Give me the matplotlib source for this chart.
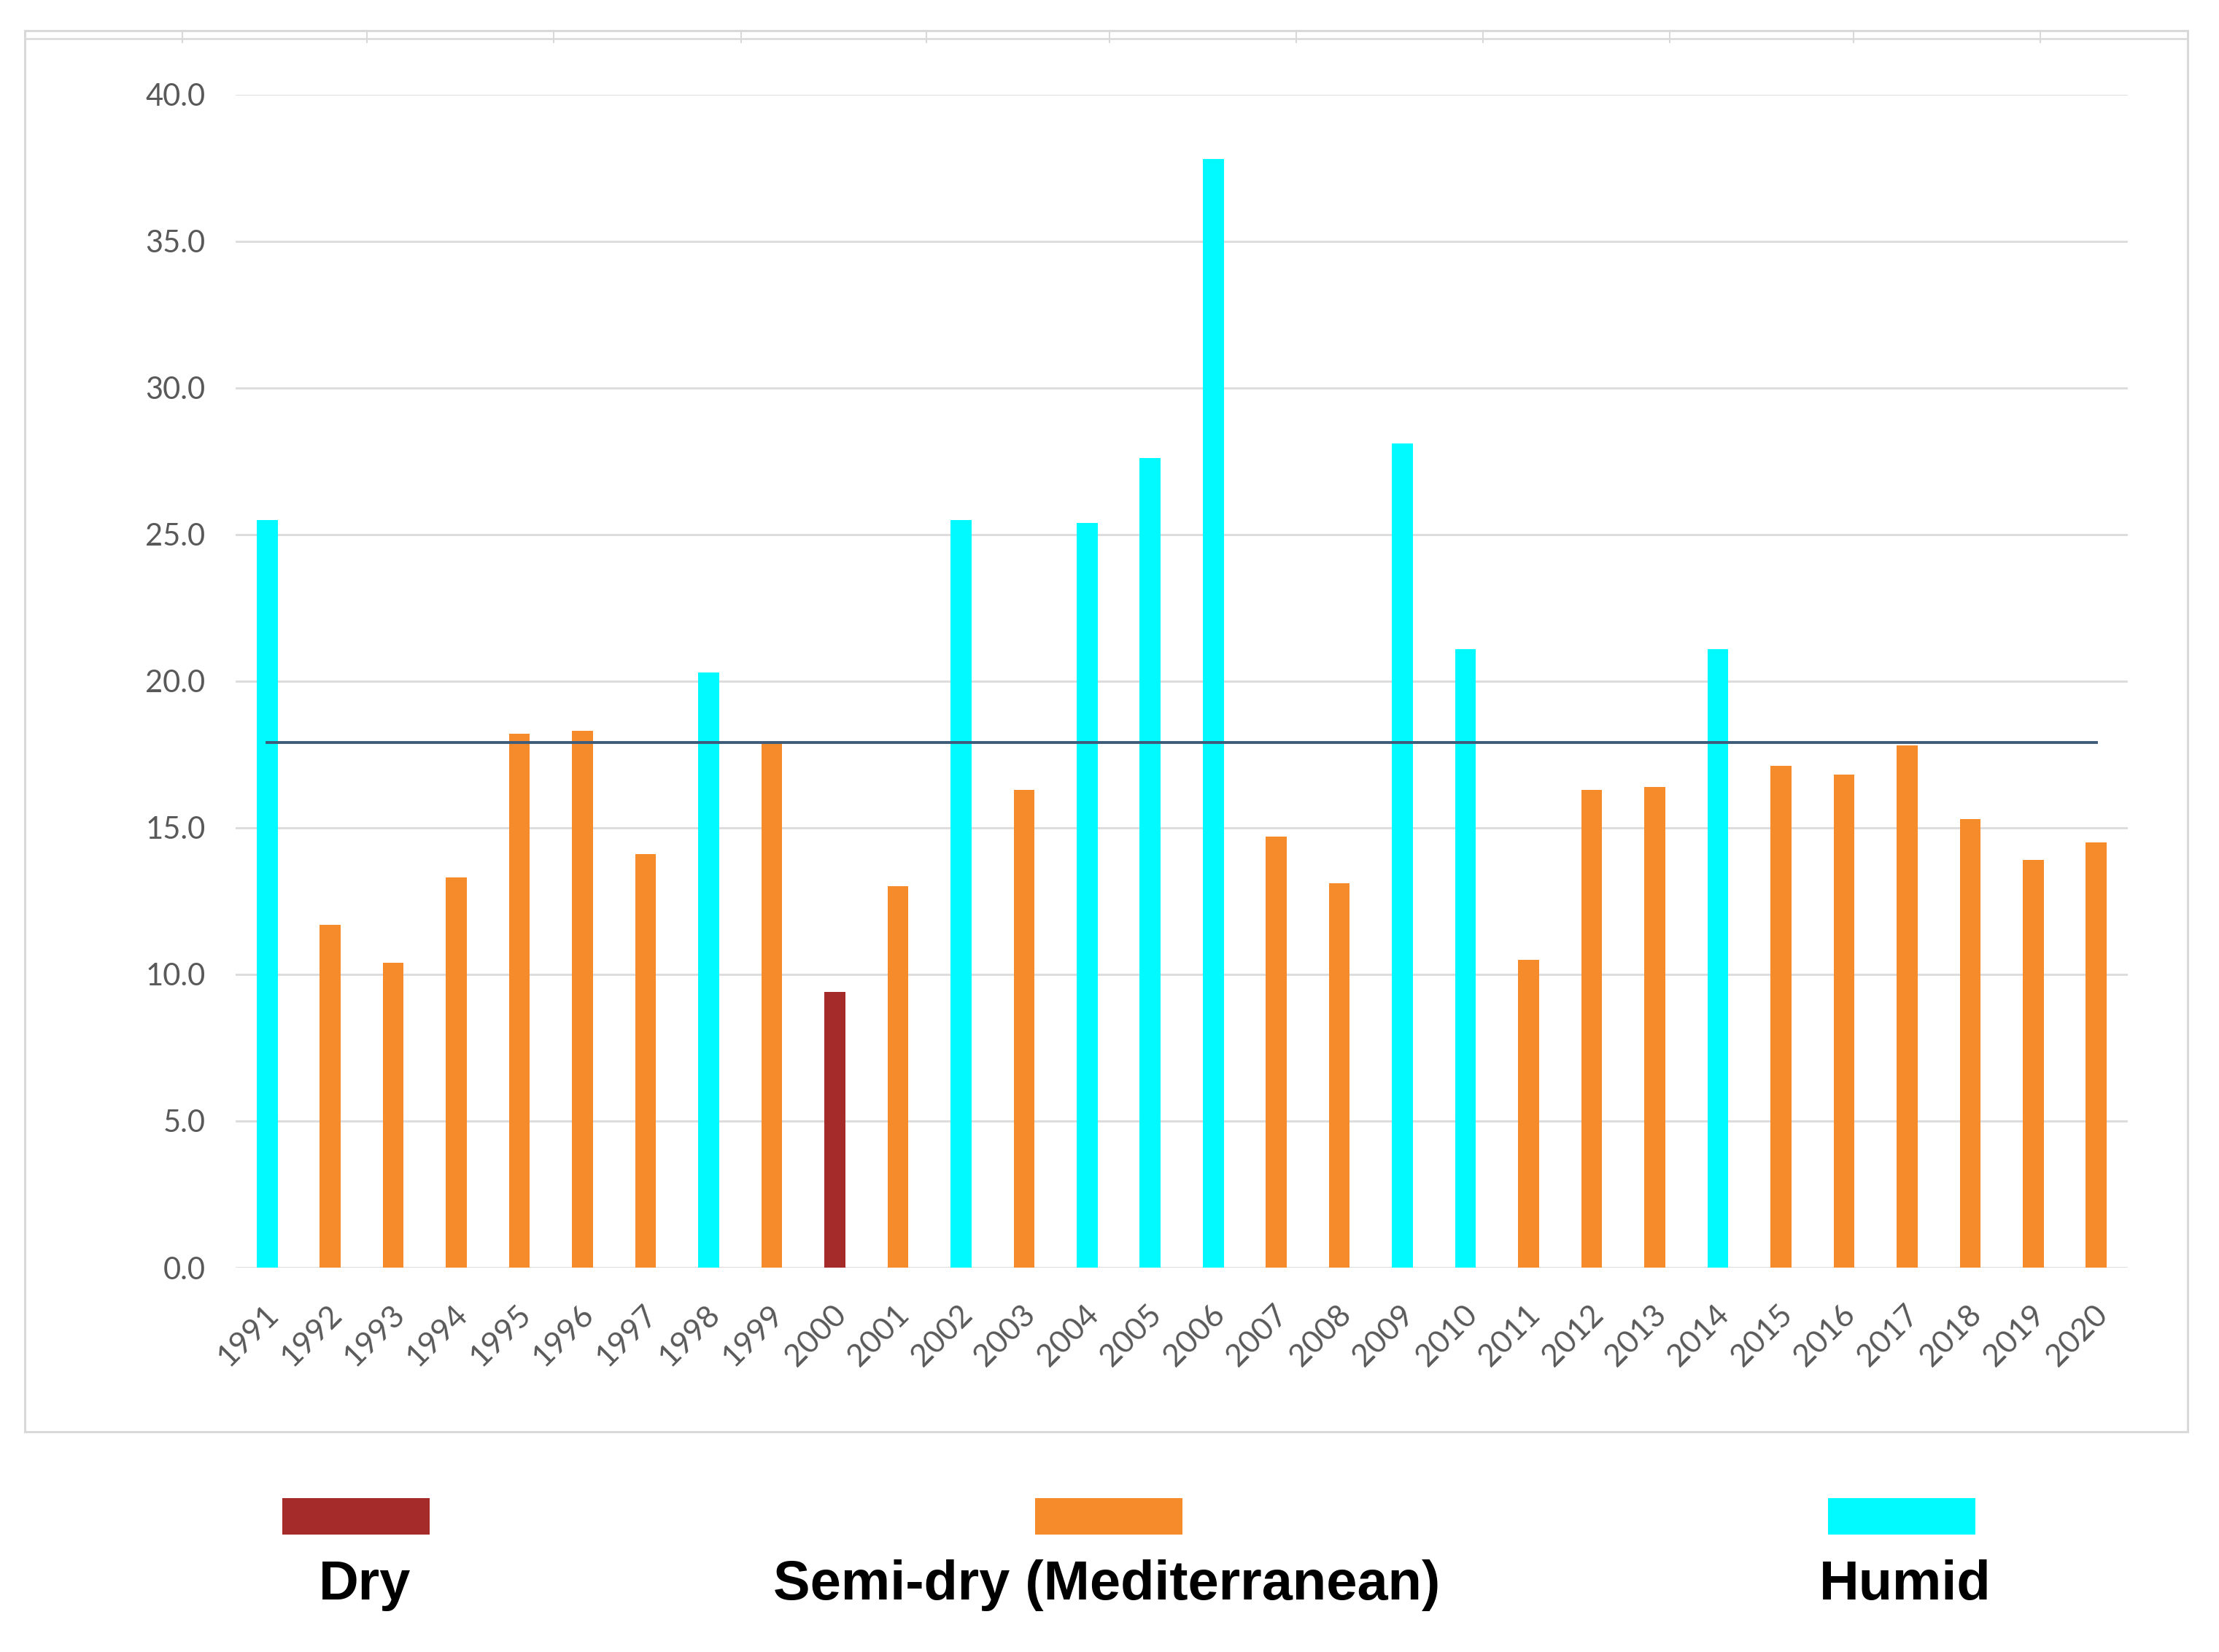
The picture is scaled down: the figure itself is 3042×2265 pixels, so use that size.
import matplotlib
matplotlib.use('Agg')
import matplotlib.pyplot as plt
from matplotlib.patches import Rectangle
from matplotlib.lines import Line2D
import matplotlib.transforms as mtransforms

# ---------------- data ----------------
years = ['1991', '1992', '1993', '1994', '1995', '1996', '1997', '1998', '1999', '2000',
         '2001', '2002', '2003', '2004', '2005', '2006', '2007', '2008', '2009', '2010',
         '2011', '2012', '2013', '2014', '2015', '2016', '2017', '2018', '2019', '2020']
values = [25.5, 11.7, 10.4, 13.3, 18.2, 18.3, 14.1, 20.3, 17.9, 9.4,
          13.0, 25.5, 16.3, 25.4, 27.6, 37.8, 14.7, 13.1, 28.1, 21.1,
          10.5, 16.3, 16.4, 21.1, 17.1, 16.8, 17.8, 15.3, 13.9, 14.5]
classes = ['Humid', 'Semi', 'Semi', 'Semi', 'Semi', 'Semi', 'Semi', 'Humid', 'Semi', 'Dry',
           'Semi', 'Humid', 'Semi', 'Humid', 'Humid', 'Humid', 'Semi', 'Semi', 'Humid', 'Humid',
           'Semi', 'Semi', 'Semi', 'Humid', 'Semi', 'Semi', 'Semi', 'Semi', 'Semi', 'Semi']
mean_value = 17.9
y_ticks = [0.0, 5.0, 10.0, 15.0, 20.0, 25.0, 30.0, 35.0, 40.0]

legend_keys = ['Dry', 'Semi', 'Humid']
legend_labels = ['Dry', 'Semi-dry (Mediterranean)', 'Humid']
class_colors = {'Dry': '#A52A2A', 'Semi': '#F68B2C', 'Humid': '#00FAFF'}

# ---------------- figure ----------------
W, H = 3042, 2265
fig = plt.figure(figsize=(W / 100, H / 100), dpi=100)
fig.patch.set_facecolor('white')

ax = fig.add_axes([323 / W, 1 - 1738 / H, (2917 - 323) / W, (1738 - 129.5) / H])
x = list(range(len(years)))
ax.bar(x, values, width=0.33, color=[class_colors[c] for c in classes], zorder=3)
ax.plot([x[0], x[-1]], [mean_value, mean_value], color='#3E5C7A', lw=2.8, zorder=4)

ax.set_xlim(-0.5, len(years) - 0.5)
ax.set_ylim(0, 40)
ax.set_yticks(y_ticks)
ax.set_yticklabels([f'{v:.1f}' for v in y_ticks])
ax.set_xticks(x)
ax.set_xticklabels(years)
ax.grid(axis='y', color='#DDDDDD', lw=2.2, zorder=0)
ax.grid(axis='x', visible=False)
for s in ax.spines.values():
    s.set_visible(False)
ax.tick_params(axis='y', length=0, pad=30, labelsize=30, labelcolor='#595959')
ax.tick_params(axis='x', length=0, pad=32, labelsize=31, labelcolor='#595959')
for lab in ax.get_yticklabels():
    lab.set_family(['Lato', 'DejaVu Sans'])
offset = mtransforms.ScaledTranslation(-4 / 100, 0, fig.dpi_scale_trans)
for lab in ax.get_xticklabels():
    lab.set_family(['Lato', 'DejaVu Sans'])
    lab.set_rotation(45)
    lab.set_ha('right')
    lab.set_va('top')
    lab.set_rotation_mode('anchor')
    lab.set_transform(lab.get_transform() + offset)

# ---------------- outer chart frame ----------------
fc = '#D9D9D9'
fig.add_artist(Rectangle((34 / W, 1 - 1963 / H), (2999 - 34) / W, (1963 - 42) / H,
                         transform=fig.transFigure, fill=False, edgecolor=fc, lw=2.2))
fig.add_artist(Line2D([34 / W, 2999 / W], [1 - 53 / H, 1 - 53 / H],
                      transform=fig.transFigure, color=fc, lw=1.8))
for px in [250, 503, 759, 1016, 1270, 1521, 1777, 2033, 2289, 2541, 2797]:
    fig.add_artist(Line2D([px / W, px / W], [1 - 42 / H, 1 - 58 / H],
                          transform=fig.transFigure, color=fc, lw=1.5))

# ---------------- legend (square above label) ----------------
sq_cx = [488, 1520, 2607]
txt_cx = [500, 1517, 2612]
for k, lab, cx, tx in zip(legend_keys, legend_labels, sq_cx, txt_cx):
    fig.add_artist(Rectangle(((cx - 101) / W, 1 - 2104 / H), 202 / W, 50 / H,
                             transform=fig.transFigure, facecolor=class_colors[k],
                             edgecolor='none'))
    fig.text(tx / W, 1 - 2193 / H, lab, ha='center', va='baseline',
             fontsize=54.5, fontweight='bold', family=['Liberation Sans', 'DejaVu Sans'],
             color='black')

fig.savefig('out.png', dpi=100, facecolor='white')
